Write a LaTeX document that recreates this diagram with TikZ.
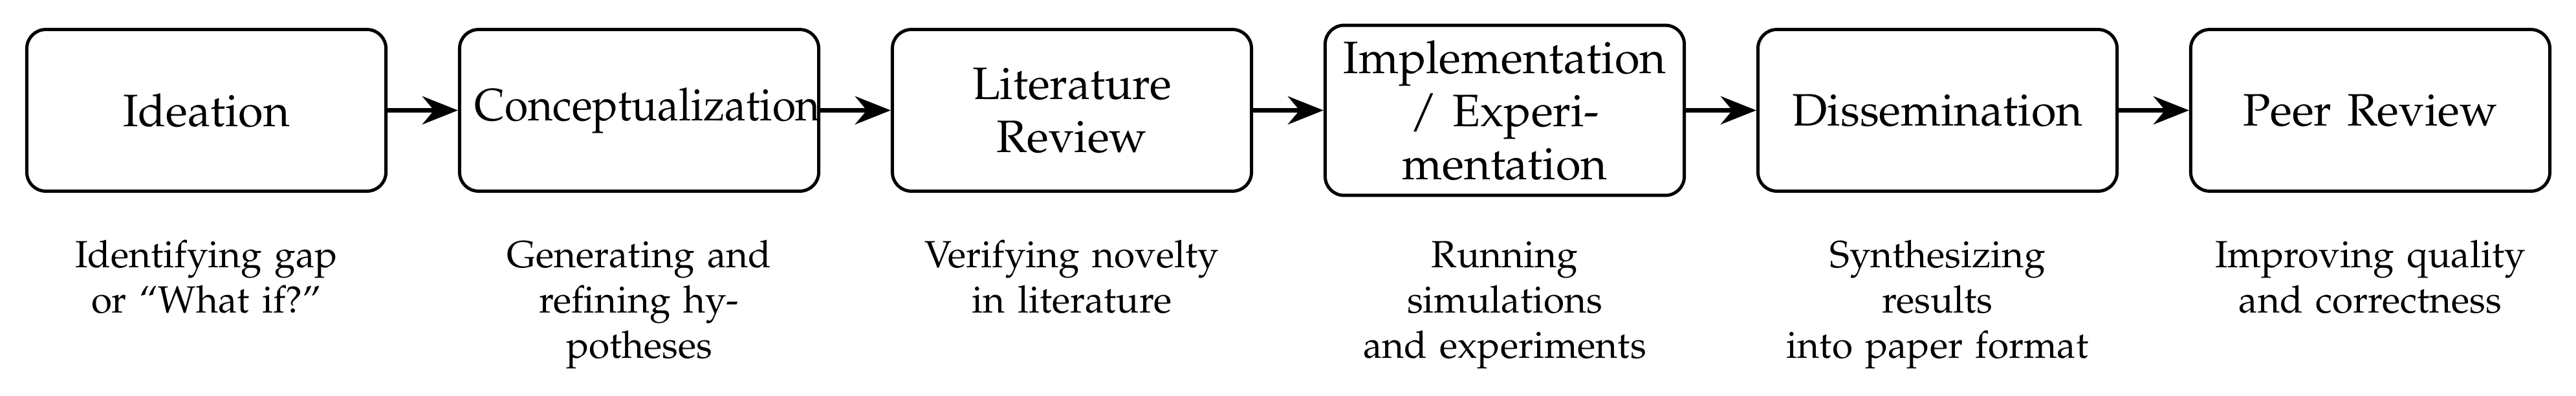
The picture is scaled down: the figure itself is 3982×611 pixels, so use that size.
\documentclass[tikz,border=0pt]{standalone}
\usepackage[T1]{fontenc}
\usepackage{mathpazo}
\usepackage{graphicx}
\usetikzlibrary{arrows.meta}
\begin{document}
\begin{tikzpicture}[x=0.17094pt,y=-0.17094pt,
  stagebox/.style={draw, line width=0.85pt, rounded corners=5pt,
    minimum height=42.7pt, text width=86.9pt, inner sep=4pt, align=center,
    font=\fontsize{12}{14}\selectfont},
  desc/.style={anchor=north, inner sep=0pt, text width=92pt, align=center,
    font=\fontsize{10}{12}\selectfont},
  flow/.style={line width=1.3pt, -{Stealth[length=9.4pt,width=7.4pt]}}]
\useasboundingbox (0,0) rectangle (3982,611);
\node[stagebox] (s1) at (319,170.5) {Ideation};
\node[stagebox] (s2) at (988,170.5) {\scalebox{0.938}[1]{Conceptualization}};
\node[stagebox] (s3) at (1657,170.5) {Literature\\Review};
\node[stagebox] (s4) at (2326,170.5) {Implementation\\/ Experi-\\mentation};
\node[stagebox] (s5) at (2995,170.5) {Dissemination};
\node[stagebox] (s6) at (3664,170.5) {Peer Review};
\draw[flow] (s1) -- (s2);
\draw[flow] (s2) -- (s3);
\draw[flow] (s3) -- (s4);
\draw[flow] (s4) -- (s5);
\draw[flow] (s5) -- (s6);
\node[desc] (d1) at (319,363) {\strut Identifying gap\\or ``What if?''};
\node[desc] (d2) at (988,363) {\strut Generating and\\refining hy-\\potheses};
\node[desc] (d3) at (1657,363) {\strut Verifying novelty\\in literature};
\node[desc] (d4) at (2326,363) {\strut Running\\simulations\\and experiments};
\node[desc] (d5) at (2995,363) {\strut Synthesizing\\results\\into paper format};
\node[desc] (d6) at (3664,363) {\strut Improving quality\\and correctness};
\end{tikzpicture}
\end{document}
